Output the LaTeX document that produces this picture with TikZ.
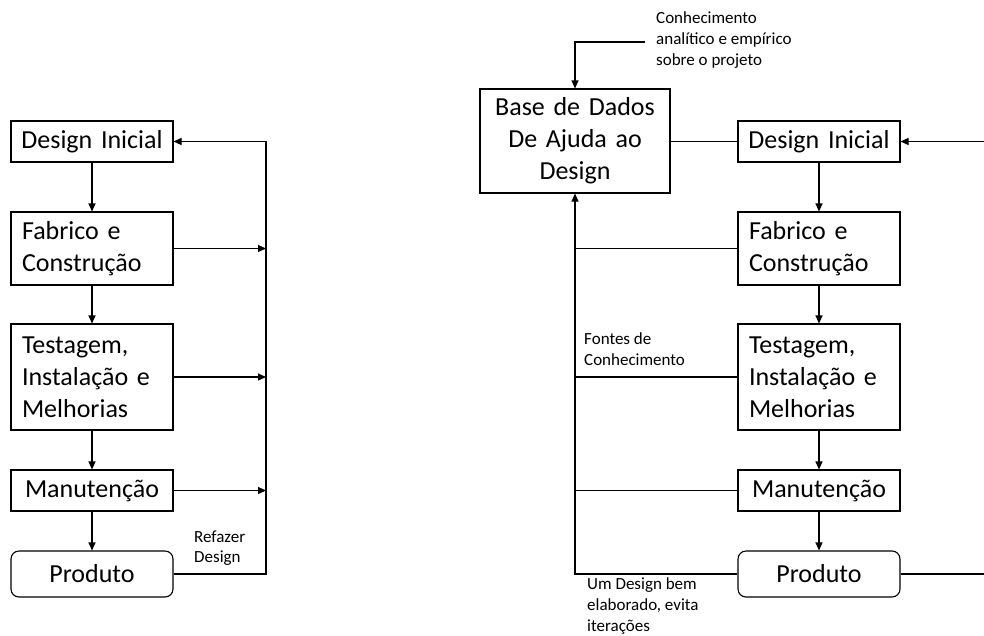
\documentclass[tikz,border=0pt]{standalone}
\usepackage{fontspec}
\setmainfont{Carlito}
\usetikzlibrary{arrows.meta}
\begin{document}
\begin{tikzpicture}[x=1pt,y=-1pt,
  stage/.style={draw, line width=1.1pt, font=\fontsize{26}{32}\selectfont,
    text width=140pt, inner xsep=11pt, inner ysep=0pt, align=left},
  stagec/.style={stage, text width=160pt, inner xsep=1pt, align=center},
  final/.style={stagec, rounded corners=8pt},
  note/.style={font=\fontsize{17}{20.7}\selectfont, inner sep=0pt, align=left, anchor=west},
  link/.style={line width=1.1pt},
  arr/.style={link, -{Triangle[length=8pt,width=7pt]}}
]
\fill[white] (0,0) rectangle (984,635);
\useasboundingbox (0,0) rectangle (984,635);

% ---- traditional cycle (left) ----
\node[stagec, minimum height=41pt]  (di1) at (92,141.5) {Design Inicial};
\node[stage,  minimum height=73pt]  (fc1) at (92,248.5) {Fabrico e\\Construção};
\node[stage,  minimum height=106pt] (tm1) at (92,377)   {Testagem,\\Instalação e\\Melhorias};
\node[stagec, minimum height=41pt]  (mn1) at (92,490.5) {Manutenção};
\node[final,  minimum height=46pt]  (pr1) at (92,574)   {Produto};

\draw[arr] (di1) -- (fc1);
\draw[arr] (fc1) -- (tm1);
\draw[arr] (tm1) -- (mn1);
\draw[arr] (mn1) -- (pr1);

\coordinate (lt) at (266,141.5);
\coordinate (lb) at (266,574);
\draw[arr] (pr1.east) -- (lb) -- (lt) -- (di1.east);
\draw[arr] (fc1.east) -- (fc1.east -| lt);
\draw[arr] (tm1.east) -- (tm1.east -| lt);
\draw[arr] (mn1.east) -- (mn1.east -| lt);
\node[note] (redo) at (194,548) {Refazer\\Design};

% ---- knowledge-based cycle (right) ----
\node[stagec, text width=188pt, minimum height=104pt] (base) at (575,141) {Base de Dados\\De Ajuda ao\\Design};
\node[stagec, minimum height=41pt]  (di2) at (819,141.5) {Design Inicial};
\node[stage,  minimum height=73pt]  (fc2) at (819,248.5) {Fabrico e\\Construção};
\node[stage,  minimum height=106pt] (tm2) at (819,377)   {Testagem,\\Instalação e\\Melhorias};
\node[stagec, minimum height=41pt]  (mn2) at (819,490.5) {Manutenção};
\node[final,  minimum height=46pt]  (pr2) at (819,574)   {Produto};

\draw[arr] (di2) -- (fc2);
\draw[arr] (fc2) -- (tm2);
\draw[arr] (tm2) -- (mn2);
\draw[arr] (mn2) -- (pr2);

\node[note] (know) at (656,40) {Conhecimento\\analítico e empírico\\sobre o projeto};
\coordinate (kin) at (645,42);
\draw[arr] (kin) -| (base.north);

\draw[link] (base.east |- di2.west) -- (di2.west);

\coordinate (rb) at (575,574);
\draw[arr] (pr2.west) -- (rb) -- (base.south);
\draw[link] (fc2.west) -- (fc2.west -| rb);
\draw[link] (tm2.west) -- (tm2.west -| rb);
\draw[link] (mn2.west) -- (mn2.west -| rb);

\coordinate (re1) at (984,141.5);
\coordinate (re2) at (984,574);
\draw[arr] (re1) -- (di2.east);
\draw[link] (pr2.east) -- (re2);

\node[note] (src) at (584,349) {Fontes de\\Conhecimento};
\node[note] (good) at (587,606) {Um Design bem\\elaborado, evita\\iterações};
\end{tikzpicture}
\end{document}
